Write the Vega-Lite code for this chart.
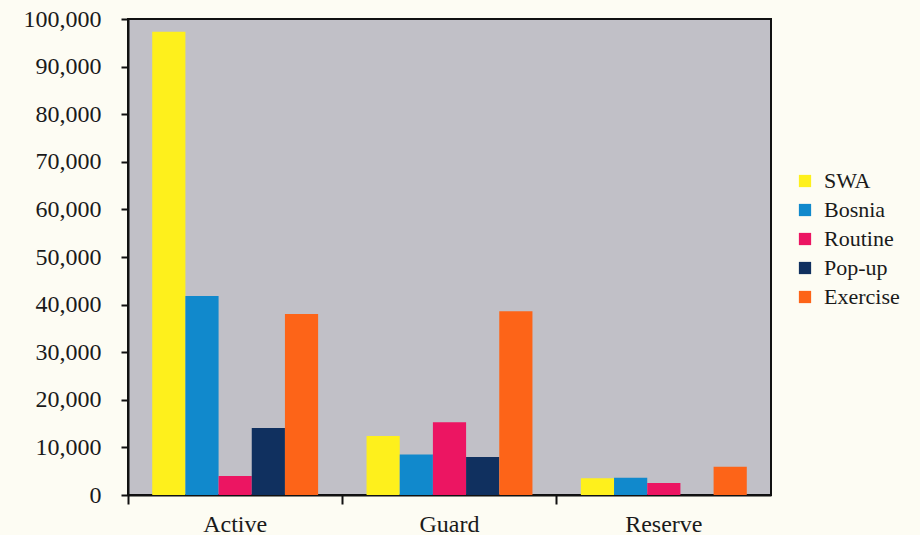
{
  "$schema": "https://vega.github.io/schema/vega-lite/v6.json",
  "width": 643,
  "height": 476,
  "autosize": {"type": "none"},
  "padding": {"left": 128, "top": 19, "right": 149, "bottom": 40},
  "background": "#fdfcf3",
  "data": {
    "values": [
      {"component": "Active", "mission": "SWA", "troops": 97300},
      {"component": "Active", "mission": "Bosnia", "troops": 41800},
      {"component": "Active", "mission": "Routine", "troops": 4000},
      {"component": "Active", "mission": "Pop-up", "troops": 14100},
      {"component": "Active", "mission": "Exercise", "troops": 38000},
      {"component": "Guard", "mission": "SWA", "troops": 12400},
      {"component": "Guard", "mission": "Bosnia", "troops": 8500},
      {"component": "Guard", "mission": "Routine", "troops": 15300},
      {"component": "Guard", "mission": "Pop-up", "troops": 8000},
      {"component": "Guard", "mission": "Exercise", "troops": 38600},
      {"component": "Reserve", "mission": "SWA", "troops": 3500},
      {"component": "Reserve", "mission": "Bosnia", "troops": 3600},
      {"component": "Reserve", "mission": "Routine", "troops": 2500},
      {"component": "Reserve", "mission": "Exercise", "troops": 5950}
    ]
  },
  "mark": {"type": "bar"},
  "encoding": {
    "x": {
      "field": "component",
      "type": "nominal",
      "sort": ["Active", "Guard", "Reserve"],
      "scale": {"paddingInner": 0, "paddingOuter": 0},
      "axis": {
        "title": null,
        "labelAngle": 0,
        "bandPosition": 0,
        "tickSize": 9,
        "tickWidth": 2,
        "tickColor": "#111111",
        "domainColor": "#111111",
        "domainWidth": 2,
        "labelPadding": 8,
        "labelFont": "Liberation Serif",
        "labelFontSize": 24,
        "labelColor": "#1a1a1a"
      }
    },
    "xOffset": {
      "field": "mission",
      "type": "nominal",
      "sort": ["SWA", "Bosnia", "Routine", "Pop-up", "Exercise"],
      "scale": {"paddingInner": 0, "paddingOuter": 0.73}
    },
    "y": {
      "field": "troops",
      "type": "quantitative",
      "scale": {"domain": [0, 100000], "nice": false},
      "axis": {
        "title": null,
        "values": [0, 10000, 20000, 30000, 40000, 50000, 60000, 70000, 80000, 90000, 100000],
        "format": ",d",
        "grid": false,
        "tickSize": 7,
        "tickWidth": 2,
        "tickColor": "#111111",
        "domainColor": "#111111",
        "domainWidth": 2,
        "labelPadding": 20,
        "labelFont": "Liberation Serif",
        "labelFontSize": 24,
        "labelColor": "#1a1a1a"
      }
    },
    "color": {
      "field": "mission",
      "type": "nominal",
      "sort": ["SWA", "Bosnia", "Routine", "Pop-up", "Exercise"],
      "scale": {
        "domain": ["SWA", "Bosnia", "Routine", "Pop-up", "Exercise"],
        "range": ["#fef01c", "#1189cc", "#ec1562", "#10305f", "#fd6418"]
      },
      "legend": {
        "title": null,
        "orient": "none",
        "legendX": 666,
        "legendY": 151,
        "symbolType": "square",
        "symbolSize": 150,
        "symbolStrokeWidth": 0,
        "symbolOpacity": 1,
        "labelFont": "Liberation Serif",
        "labelFontSize": 22,
        "labelColor": "#1a1a1a",
        "labelOffset": 8,
        "rowPadding": 7
      }
    }
  },
  "config": {
    "view": {"fill": "#c1c0c7", "stroke": "#111111", "strokeWidth": 2}
  }
}
